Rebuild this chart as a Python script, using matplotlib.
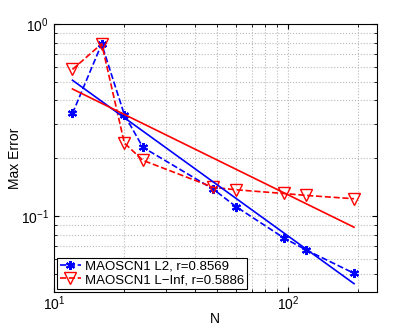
import matplotlib
matplotlib.use("Agg")
import matplotlib.pyplot as plt
import numpy as np

plt.rcParams['font.family'] = ['Liberation Sans', 'DejaVu Sans']
plt.rcParams['mathtext.fontset'] = 'custom'
plt.rcParams['mathtext.rm'] = 'Liberation Sans'

N = np.array([12, 16, 20, 24, 48, 60, 96, 120, 192])
err_l2 = np.array([0.342, 0.787, 0.337, 0.228, 0.138, 0.112, 0.077, 0.0665, 0.0503])
err_linf = np.array([0.580, 0.789, 0.240, 0.195, 0.141, 0.137, 0.131, 0.128, 0.123])
labels = ["MAOSCN1 L2, r=0.8569", "MAOSCN1 L\u2212Inf, r=0.5886"]


def fit_line(x, y):
    p = np.polyfit(np.log10(x), np.log10(y), 1)
    return 10 ** np.polyval(p, np.log10(x))


fig = plt.figure(figsize=(4.15, 3.29), dpi=100)
ax = fig.add_axes([0.130, 0.1125, 0.7777, 0.8145])

asterisk = (6, 2, 0)
l1, = ax.loglog(N, err_l2, '--', color='b', marker=asterisk, markersize=6.5,
                markeredgewidth=1.5, linewidth=1.2)
l2, = ax.loglog(N, err_linf, '--', color='r', marker='v', markersize=8,
                markerfacecolor='none', markeredgewidth=1.0, linewidth=1.2)

ax.loglog(N, fit_line(N, err_l2), '-', color='b', linewidth=1.2)
ax.loglog(N, fit_line(N, err_linf), '-', color='r', linewidth=1.2)

ax.set_xlim(10, 240)
ax.set_ylim(0.0402, 1)
ax.grid(True, which='both', linestyle=':', color='#b8b8b8', linewidth=0.8)
ax.tick_params(which='both', direction='in', top=True, right=True, labelsize=10)
ax.tick_params(axis='x', pad=2)
for s in ax.spines.values():
    s.set_linewidth(0.8)

ax.set_xlabel("N", fontsize=10)
ax.xaxis.set_label_coords(0.5, -0.075)
ax.set_ylabel("Max Error", fontsize=10)
ax.yaxis.set_label_coords(-0.10, 0.5)

leg = ax.legend([l1, l2], labels, loc='lower left', fontsize=9.5,
                fancybox=False, edgecolor='k', framealpha=1,
                handlelength=1.6, handletextpad=0.3, borderpad=0.2,
                labelspacing=0.1, borderaxespad=0.25)
leg.get_frame().set_linewidth(0.8)

fig.savefig("out.png", dpi=100)
